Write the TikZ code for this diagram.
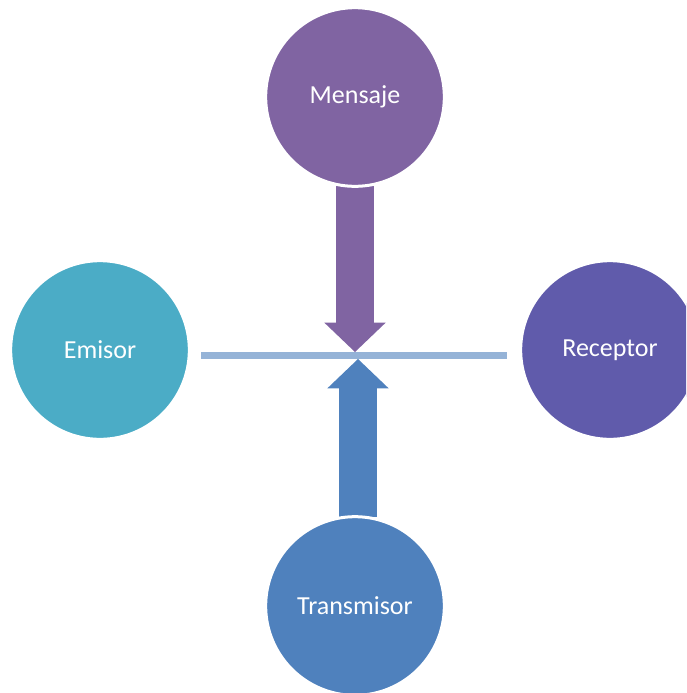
\documentclass[tikz,border=0pt]{standalone}
\usepackage{fontspec}
\setmainfont{Carlito}
\usetikzlibrary{arrows.meta,calc,backgrounds}

\definecolor{mensajeColor}{RGB}{128,100,162}
\definecolor{emisorColor}{RGB}{75,172,198}
\definecolor{receptorColor}{RGB}{96,91,171}
\definecolor{transmisorColor}{RGB}{79,129,189}
\definecolor{canalColor}{RGB}{149,179,215}

\tikzset{every picture/.style={line width=0.75pt}}
\tikzset{
  bubble/.style={circle, draw=white, line width=2.25pt, minimum size=134pt, inner sep=0pt, outer sep=0pt, text=white, font=\fontsize{19.5}{23}\selectfont},
  flecha/.style={line width=28pt, -{Triangle[length=22pt, width=46pt, line width=0pt]}},
  canal/.style={draw=canalColor, line width=5.25pt},
}

\begin{document}
\begin{tikzpicture}[x=0.75pt,y=0.75pt,yscale=-1,xscale=1]
%set diagram to 686 x 693
\useasboundingbox (0,0) rectangle (686,693);
\clip (0,0) rectangle (686,693);

%Shape: Circle [mensaje]
\node[bubble, fill=mensajeColor] (mensaje) at (355,97) {Mensaje};
%Shape: Circle [emisor]
\node[bubble, fill=emisorColor] (emisor) at (100,350) {Emisor};
%Shape: Circle [receptor]
\node[bubble, fill=receptorColor] (receptor) at (610,350) {Receptor};
%Shape: Circle [transmisor]
\node[bubble, fill=transmisorColor] (transmisor) at (355,606) {Transmisor};

\coordinate (tipdown) at (355,352);
\coordinate (tipup) at (358,359);

\begin{pgfonlayer}{background}
%Straight Lines [canal]
\draw[canal] ($(emisor.east)+(12,5.5)$) -- ($(receptor.west)+(-14,5.5)$);
%Block Arrow [down]
\draw[flecha, mensajeColor] (mensaje.south) -- (tipdown);
%Block Arrow [up]
\draw[flecha, transmisorColor] ($(transmisor.north)+(3,0)$) -- (tipup);
\end{pgfonlayer}

\end{tikzpicture}
\end{document}
